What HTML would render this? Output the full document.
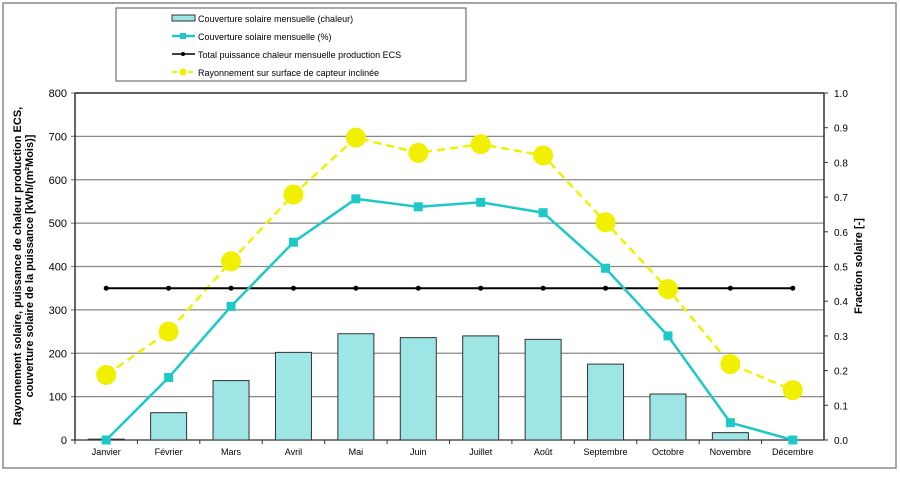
<!DOCTYPE html>
<html><head><meta charset="utf-8"><style>
body{margin:0;background:#fff;font-family:"Liberation Sans",Arial,sans-serif}
svg text{font-family:"Liberation Sans",Arial,sans-serif}
</style></head><body>
<svg id="c" width="900" height="472" xmlns="http://www.w3.org/2000/svg">
<rect x="3" y="3" width="893" height="465" fill="#fff" stroke="#888" stroke-width="1.5"/>
<g>
<rect x="116" y="8" width="350" height="73" fill="#fff" stroke="#555"/>
<rect x="172" y="15" width="23" height="6" fill="#9ee5e5" stroke="#333"/>
<text x="198" y="22" font-size="9">Couverture solaire mensuelle (chaleur)</text>
<line x1="172" y1="36" x2="195" y2="36" stroke="#1cc8c8" stroke-width="2.5"/><rect x="180" y="33" width="6" height="6" fill="#1cc8c8"/>
<text x="198" y="40" font-size="9">Couverture solaire mensuelle (%)</text>
<line x1="172" y1="54" x2="195" y2="54" stroke="#000" stroke-width="1.5"/><circle cx="183" cy="54" r="2" fill="#000"/>
<text x="198" y="58" font-size="9">Total puissance chaleur mensuelle production ECS</text>
<line x1="172" y1="72" x2="195" y2="72" stroke="#f0f000" stroke-width="2" stroke-dasharray="5,3"/><circle cx="183" cy="72" r="3.5" fill="#f0f000"/>
<text x="198" y="76" font-size="9">Rayonnement sur surface de capteur inclinée</text>
</g>
<g id="plot"></g>
<text transform="translate(21,266) rotate(-90)" font-size="11" font-weight="bold" text-anchor="middle"><tspan x="0" dy="0">Rayonnement solaire, puissance de chaleur production ECS,</tspan><tspan x="0" dy="12">couverture solaire de la puissance   [kWh/(m²Mois)]</tspan></text>
<text transform="translate(862,266) rotate(-90)" font-size="11" font-weight="bold" text-anchor="middle">Fraction solaire [-]</text>
</svg>
<script>
const months=["Janvier","Février","Mars","Avril","Mai","Juin","Juillet","Août","Septembre","Octobre","Novembre","Décembre"];
const chaleur=[2,63,137,202,245,236,240,232,175,106,17,0];
const percent=[0,0.18,0.385,0.57,0.695,0.672,0.685,0.655,0.495,0.30,0.05,0];
const total=[350,350,350,350,350,350,350,350,350,350,350,350];
const rayonnement=[150,250,412,566,697,662,682,656,502,348,175,115];
const leftTicks=[0,100,200,300,400,500,600,700,800];
const rightTicks=["0.0","0.1","0.2","0.3","0.4","0.5","0.6","0.7","0.8","0.9","1.0"];
const L=75,R=824,T=93,B=440,NS="http://www.w3.org/2000/svg";
const bw=(R-L)/months.length;
const x=i=>L+bw*(i+0.5);
const y=v=>B-(B-T)*v/800;
const yr=v=>B-(B-T)*v/1;
const g=document.getElementById('plot');
function mk(t,a){const e=document.createElementNS(NS,t);for(const k in a)e.setAttribute(k,a[k]);g.appendChild(e);return e;}
leftTicks.forEach(v=>{
 const l=mk('line',{x1:L-4,x2:R,y1:y(v),y2:y(v),stroke:v===0?'#333':'#888','stroke-width':1.3});
 
 
 const t=mk('text',{x:L-8,y:y(v)+4,'font-size':11,'text-anchor':'end'});t.textContent=v;
 
 
});
rightTicks.forEach(s=>{
 const v=parseFloat(s);
 mk('line',{x1:R,x2:R+4,y1:yr(v),y2:yr(v),stroke:'#333'});
 const t=mk('text',{x:R+10,y:yr(v)+4,'font-size':10});t.textContent=s;
 
 
});
mk('line',{x1:L,x2:L,y1:T,y2:B,stroke:'#333','stroke-width':1.5});
mk('line',{x1:R,x2:R,y1:T,y2:B,stroke:'#333','stroke-width':1.5});
mk('line',{x1:L,x2:R,y1:T,y2:T,stroke:'#333','stroke-width':1.5});
months.forEach((m,i)=>{
 mk('line',{x1:L+bw*i,x2:L+bw*i,y1:B,y2:B+4,stroke:'#333'});
 const t=mk('text',{x:x(i),y:B+15,'font-size':9,'text-anchor':'middle'});t.textContent=m;
 
 
});
chaleur.forEach((v,i)=>{
 const r=mk('rect',{x:x(i)-18,y:y(v),width:36,height:B-y(v),fill:'#9ee5e5',stroke:'#333','stroke-width':1});
 
 
});
const p1=mk('polyline',{points:rayonnement.map((v,i)=>x(i)+','+y(v)).join(' '),fill:'none',stroke:'#f0f000','stroke-width':2.5,'stroke-dasharray':'8,5'});


const p2=mk('polyline',{points:total.map((v,i)=>x(i)+','+y(v)).join(' '),fill:'none',stroke:'#000','stroke-width':2});


total.forEach((v,i)=>{const c=mk('circle',{cx:x(i),cy:y(v),r:2.5,fill:'#000'});
 
 });
const p3=mk('polyline',{points:percent.map((v,i)=>x(i)+','+yr(v)).join(' '),fill:'none',stroke:'#1cc8c8','stroke-width':2.5});


percent.forEach((v,i)=>{const c=mk('rect',{x:x(i)-4.5,y:yr(v)-4.5,width:9,height:9,fill:'#1cc8c8'});
 
 });
rayonnement.forEach((v,i)=>{const c=mk('circle',{cx:x(i),cy:y(v),r:10,fill:'#f0f000'});
 
 });
</script>
</body></html>
